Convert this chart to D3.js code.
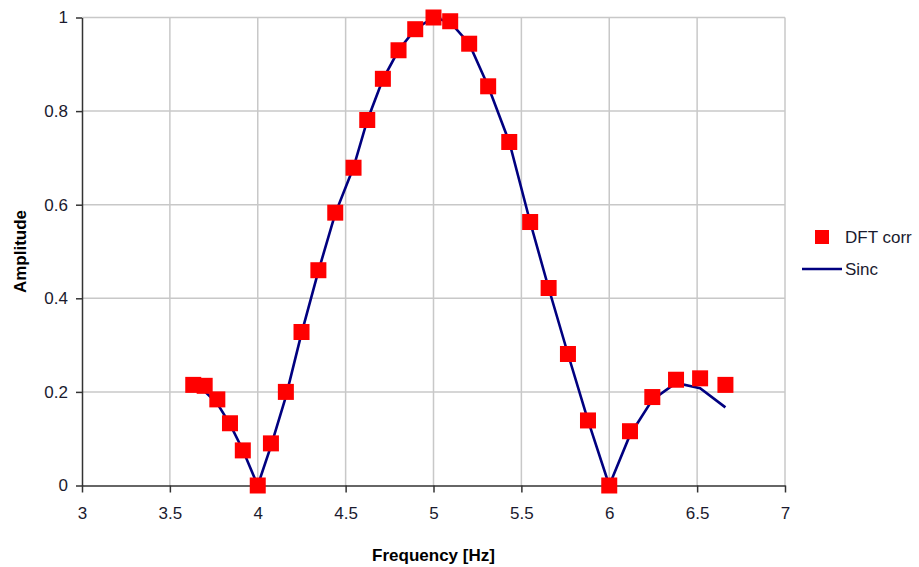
<!DOCTYPE html>
<meta charset="utf-8">
<style>
body { margin: 0; background: #fff; }
text { font-family: "Liberation Sans", Arial, sans-serif; }
.grid line { stroke: #c8c8c8; stroke-width: 1.5; }
.axis path, .axis line { stroke: #333; stroke-width: 1.5; }
.axis text { font-size: 17px; fill: #1a1a2e; }
.line { stroke: #000080; stroke-width: 2.6; fill: none; }
</style>
<body>
<script src="https://cdn.jsdelivr.net/npm/d3@7"></script>
<script>

// Data
var freq = [3.633, 3.698, 3.770, 3.842, 3.915, 4.000, 4.075, 4.160, 4.249, 4.345,
            4.441, 4.545, 4.623, 4.712, 4.801, 4.896, 5.000, 5.095, 5.203, 5.311,
            5.431, 5.550, 5.655, 5.765, 5.879, 6.000, 6.118, 6.245, 6.380, 6.517, 6.661];
var dftAmp = [0.215, 0.213, 0.184, 0.133, 0.075, 0.000, 0.090, 0.200, 0.328, 0.460,
              0.583, 0.679, 0.781, 0.869, 0.930, 0.975, 1.000, 0.992, 0.944, 0.853,
              0.734, 0.563, 0.422, 0.281, 0.139, 0.000, 0.116, 0.189, 0.226, 0.229, 0.215];
var sincAmp = [0.213, 0.201, 0.175, 0.131, 0.076, 0.000, 0.084, 0.190, 0.325, 0.458,
               0.581, 0.680, 0.780, 0.868, 0.930, 0.975, 1.000, 0.990, 0.944, 0.853,
               0.734, 0.563, 0.422, 0.281, 0.139, 0.000, 0.108, 0.183, 0.219, 0.208, 0.167];
var xTicks = [3, 3.5, 4, 4.5, 5, 5.5, 6, 6.5, 7];
var yTicks = [0, 0.2, 0.4, 0.6, 0.8, 1];
var legendLabels = ["DFT corr", "Sinc"];

var margin = {top: 17.5, right: 134, bottom: 81.5, left: 82},
    width = 919 - margin.left - margin.right,
    height = 567 - margin.top - margin.bottom;

var x = d3.scaleLinear().domain([3, 7]).range([0, width]);
var y = d3.scaleLinear().domain([0, 1]).range([height, 0]);

var svg = d3.select("body").append("svg")
    .attr("width", 919)
    .attr("height", 567)
  .append("g")
    .attr("transform", "translate(" + margin.left + "," + margin.top + ")");

// gridlines
svg.append("g").attr("class", "grid")
  .selectAll("line").data(xTicks.slice(1)).enter().append("line")
    .attr("x1", function(d) { return x(d); }).attr("x2", function(d) { return x(d); })
    .attr("y1", 0).attr("y2", height);
svg.append("g").attr("class", "grid")
  .selectAll("line").data(yTicks.slice(1)).enter().append("line")
    .attr("x1", 0).attr("x2", width)
    .attr("y1", function(d) { return y(d); }).attr("y2", function(d) { return y(d); });

// axes
svg.append("g").attr("class", "axis")
    .attr("transform", "translate(0," + height + ")")
    .call(d3.axisBottom(x).tickValues(xTicks).tickSize(7).tickSizeOuter(0).tickPadding(14)
      .tickFormat(d3.format("")));
svg.append("g").attr("class", "axis")
    .call(d3.axisLeft(y).tickValues(yTicks).tickSize(6).tickSizeOuter(0).tickPadding(8)
      .tickFormat(d3.format("")));

// sinc line
var valueline = d3.line()
    .x(function(d, i) { return x(freq[i]); })
    .y(function(d) { return y(d); });
svg.append("path").datum(sincAmp).attr("class", "line").attr("d", valueline);

// DFT markers
var ms = 16;
svg.selectAll(".pt").data(dftAmp).enter().append("rect")
    .attr("class", "pt")
    .attr("x", function(d, i) { return x(freq[i]) - ms / 2; })
    .attr("y", function(d) { return y(d) - ms / 2; })
    .attr("width", ms).attr("height", ms)
    .attr("fill", "#ff0000");

// axis titles
svg.append("text")
    .attr("x", x(5)).attr("y", height + 75)
    .attr("text-anchor", "middle")
    .style("font-size", "17px").style("font-weight", "bold")
    .text("Frequency [Hz]");
svg.append("text")
    .attr("transform", "translate(" + (26 - margin.left) + "," + (height / 2) + ") rotate(-90)")
    .attr("text-anchor", "middle")
    .style("font-size", "17px").style("font-weight", "bold")
    .text("Amplitude");

// legend
var lg = d3.select("svg").append("g");
lg.append("rect").attr("x", 815).attr("y", 230).attr("width", 14).attr("height", 14)
    .attr("fill", "#ff0000");
lg.append("line").attr("x1", 802).attr("x2", 842).attr("y1", 269).attr("y2", 269)
    .attr("class", "line");
lg.selectAll("text").data(legendLabels).enter().append("text")
    .attr("x", 845)
    .attr("y", function(d, i) { return 243 + i * 32; })
    .style("font-size", "17px").style("fill", "#1a1a2e")
    .text(function(d) { return d; });

</script>
</body>
